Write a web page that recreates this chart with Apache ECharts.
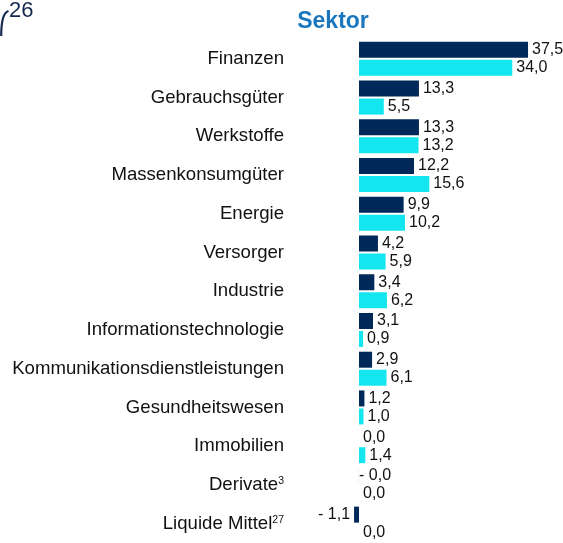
<!DOCTYPE html>
<html>
<head>
<meta charset="utf-8">
<script src="https://cdn.jsdelivr.net/npm/echarts@6/dist/echarts.min.js"></script>
<style>
html,body{margin:0;padding:0;background:#fff;}
#chart{width:563px;height:543px;}
</style>
</head>
<body>
<div id="chart"></div>
<script>
const categories = ['Finanzen','Gebrauchsgüter','Werkstoffe','Massenkonsumgüter','Energie','Versorger','Industrie','Informationstechnologie','Kommunikationsdienstleistungen','Gesundheitswesen','Immobilien','Derivate','Liquide Mittel'];
const superscripts = ['','','','','','','','','','','','3','27'];
const fundValues = [37.5,13.3,13.3,12.2,9.9,4.2,3.4,3.1,2.9,1.2,0.0,-0.01,-1.1];
const benchmarkValues = [34.0,5.5,13.2,15.6,10.2,5.9,6.2,0.9,6.1,1.0,1.4,0.0,0.0];
const titleText = 'Sektor';
const cornerText = '26';

const DARK = '#002859';
const CYAN = '#14e6f0';
const FONT = 'Liberation Sans, Arial, sans-serif';

function fmt(v){
  const s = Math.abs(v).toFixed(1).replace('.', ',');
  return v < 0 ? '- ' + s : s;
}
function mkData(arr){
  return arr.map(v => {
    const item = {value: v};
    if (v < -0.05) item.label = {position: 'left'};
    else if (v < 0) item.label = {position: 'right', distance: 0};
    return item;
  });
}

const chart = echarts.init(document.getElementById('chart'), null, {renderer: 'canvas'});
chart.setOption({
  animation: false,
  backgroundColor: '#fff',
  title: {
    text: titleText,
    left: 328, top: 5, textAlign: 'center',
    textStyle: {fontFamily: FONT, fontSize: 23, fontWeight: 'bold', color: '#1a77bd'}
  },
  graphic: [
    {type: 'text', left: 9, top: 0, style: {text: cornerText, fontFamily: FONT, fontSize: 22, fill: '#14284f'}},
    {type: 'bezierCurve', shape: {x1: 1.2, y1: 36, x2: 8.5, y2: 11, cpx1: 1.2, cpy1: 13}, style: {stroke: '#14284f', lineWidth: 2.2, fill: null}}
  ],
  grid: {left: 350, top: 39.5, width: 189.3, height: 507, containLabel: false},
  xAxis: {
    type: 'value', min: -2, max: 40, show: false
  },
  yAxis: {
    type: 'category', data: categories, inverse: true,
    axisLine: {show: false}, axisTick: {show: false}, splitLine: {show: false},
    axisLabel: {
      margin: 66,
      formatter: function(val, idx){
        const sup = superscripts[idx];
        return sup ? '{n|' + val + '}{s|' + sup + '}' : '{n|' + val + '}';
      },
      rich: {
        n: {fontFamily: FONT, fontSize: 18.6, color: '#111'},
        s: {fontFamily: FONT, fontSize: 10.5, color: '#111', verticalAlign: 'top', padding: [0,0,8,0]}
      }
    }
  },
  series: [
    {
      type: 'bar', data: mkData(fundValues), barWidth: 16, barGap: '12.5%',
      itemStyle: {color: DARK},
      label: {show: true, position: 'right', distance: 4, formatter: p => fmt(p.value),
        fontFamily: FONT, fontSize: 16, color: '#111'}
    },
    {
      type: 'bar', data: mkData(benchmarkValues), barWidth: 16,
      itemStyle: {color: CYAN},
      label: {show: true, position: 'right', distance: 4, formatter: p => fmt(p.value),
        fontFamily: FONT, fontSize: 16, color: '#111'}
    }
  ]
});
</script>
</body>
</html>
